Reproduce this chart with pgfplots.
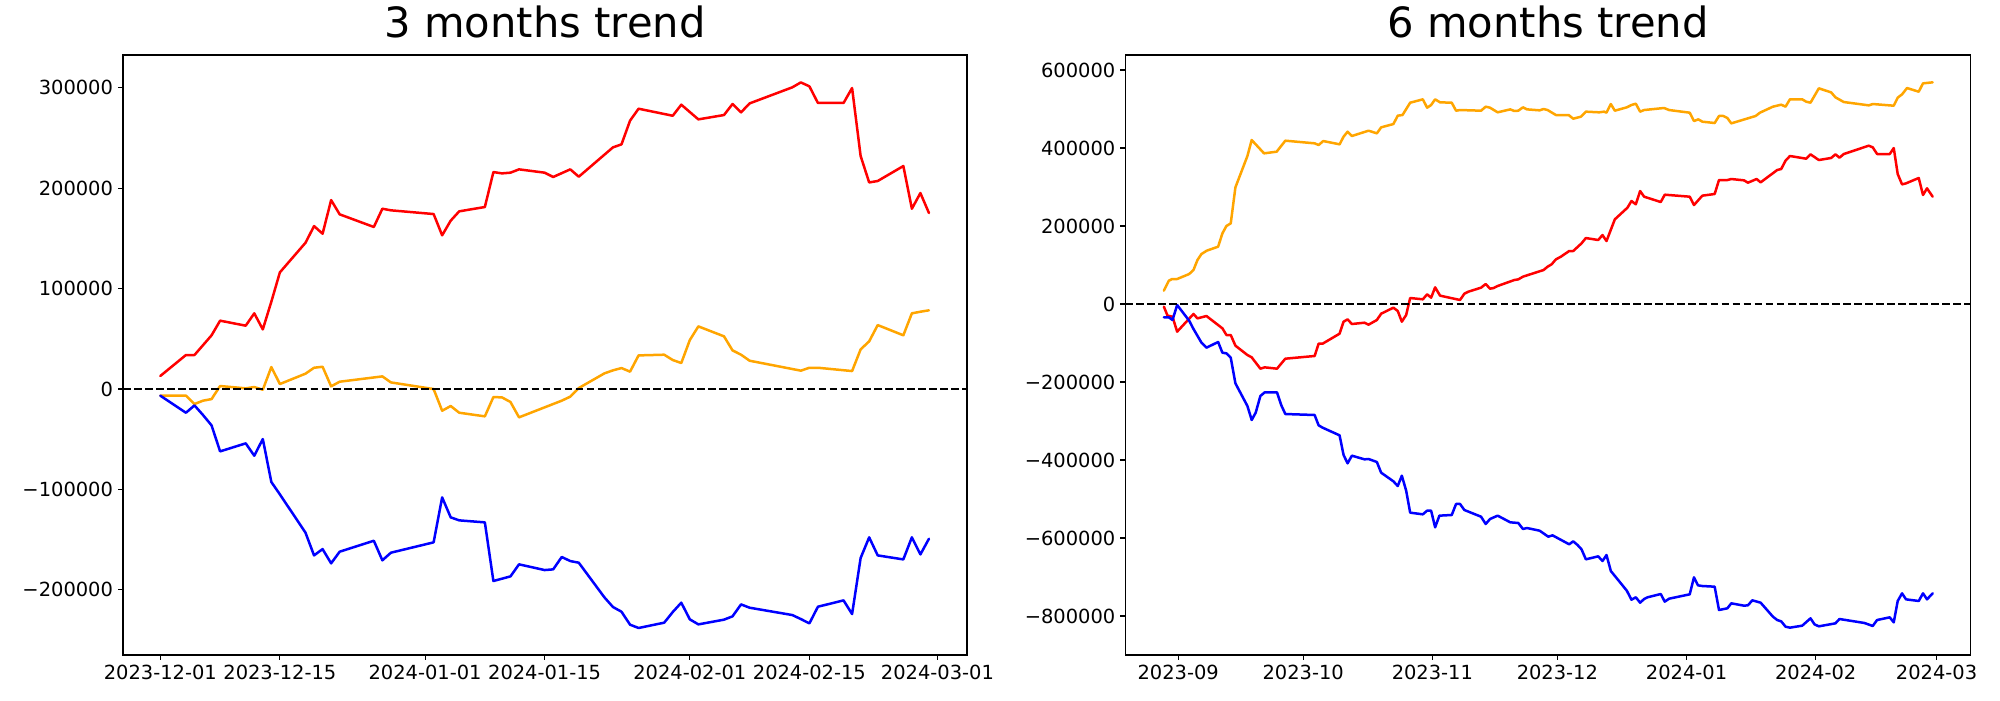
\documentclass[border=0pt]{standalone}
\usepackage{fontspec}
\setmainfont{DejaVu Sans}
\usepackage{pgfplots}
\pgfplotsset{compat=1.18}
\usepackage{pgfplotstable}

\definecolor{mplorange}{RGB}{255,165,0}

% ---- 3 months (x = days since 2023-12-01) ----
\pgfplotstableread{
x y
0 13000
3 33900
4 33900
6 53500
7 68100
10 63100
11 75400
12 59400
13 87000
14 116200
17 145700
18 162300
19 154700
20 188200
21 174000
25 161400
26 179600
27 178000
32 174300
33 153100
34 167700
35 177000
38 181300
39 216100
40 214800
41 215500
42 218800
45 215500
46 211200
48 218800
49 211500
53 240700
54 243700
55 267300
56 279200
60 272200
61 283200
63 268600
66 272900
67 283900
68 275600
69 284500
74 300500
75 305400
76 301500
77 284900
80 284900
81 299800
82 232100
83 205800
84 207200
87 222100
88 179600
89 195200
90 175300
}\leftred

\pgfplotstableread{
x y
0 -6600
3 -6600
4 -14900
5 -11600
6 -10000
7 3000
10 700
11 2000
12 -700
13 21900
14 5000
17 15300
18 21200
19 22200
20 2700
21 7300
26 12600
27 6600
32 0
33 -21600
34 -16900
35 -23600
38 -27200
39 -8000
40 -8300
41 -12900
42 -28200
47 -11600
48 -7600
49 1000
52 15600
53 18600
54 20900
55 17300
56 33500
59 34200
60 28900
61 25900
62 48800
63 62400
66 52500
67 38500
68 34200
69 28200
75 18300
76 21200
77 21200
81 17900
82 39500
83 47500
84 63700
87 53500
88 75400
89 77000
90 78400
}\leftorange

\pgfplotstableread{
x y
0 -6600
3 -23600
4 -16300
5 -25900
6 -36200
7 -62100
10 -54100
11 -66400
12 -49800
13 -92600
14 -104900
17 -143100
18 -165700
19 -159400
20 -173600
21 -162000
25 -151100
26 -170600
27 -163000
32 -152700
33 -107900
34 -127800
35 -130800
38 -132800
39 -191200
41 -186600
42 -174600
45 -180300
46 -179600
47 -167300
48 -171300
49 -173000
52 -207500
53 -217100
54 -221800
55 -234700
56 -238000
59 -232700
60 -222100
61 -212800
62 -229400
63 -234400
66 -229700
67 -226400
68 -214500
69 -217800
74 -225100
75 -229100
76 -233400
77 -216800
80 -210500
81 -224100
82 -168300
83 -147700
84 -165700
87 -169700
88 -147700
89 -164700
90 -149100
}\leftblue

% ---- 6 months (x = days since 2023-09-01) ----
\pgfplotstableread{
x y
-3.44 -6800
-2.56 -29900
-1.37 -32500
-0.25 -70900
3.67 -25600
4.62 -36800
6.78 -30800
10.61 -62400
11.57 -79500
12.61 -79500
13.73 -106800
16.61 -130800
17.64 -136800
19.72 -165800
20.76 -162400
23.71 -165800
25.71 -140200
32.74 -133300
33.7 -101700
34.66 -101700
38.73 -76100
39.69 -45300
40.65 -39300
41.68 -51300
44.72 -47900
45.68 -53000
47.68 -41000
48.71 -24800
51.65 -9400
52.69 -17900
53.67 -45300
54.71 -28200
55.67 15400
58.71 12000
59.74 24800
60.7 16200
61.66 42700
62.85 21400
67.64 10300
68.68 26500
69.64 31600
72.68 41900
73.8 51300
74.83 39300
75.71 41000
76.67 46200
80.66 61500
81.62 63200
82.74 70100
87.7 87200
88.65 95700
89.61 101700
90.65 114500
91.85 121400
93.84 135900
94.8 135900
96.8 155600
97.84 169200
100.8 164100
101.83 176900
102.79 161500
104.79 217100
107.82 247000
108.78 264100
109.82 255600
110.86 289700
111.82 275200
115.81 261500
116.77 280300
122.76 275200
123.79 253800
125.79 277800
128.75 282100
129.79 317900
131.79 317900
132.74 320500
135.78 317100
136.74 311100
138.82 320500
139.78 312000
143.76 343600
144.72 346200
145.76 367500
146.81 379500
150.71 372600
151.75 383800
153.75 369200
156.7 374400
157.74 383800
158.7 375200
159.74 384600
165.73 406000
166.69 401700
167.73 384600
170.77 384600
171.73 400000
172.68 333300
173.72 306800
174.68 309400
177.72 323100
178.75 279500
179.71 296600
181.07 275200
}\rightred

\pgfplotstableread{
x y
-3.44 34200
-2.24 59800
-1.45 64100
-0.25 64100
2.63 76900
3.67 87200
4.62 112800
5.58 128200
6.86 136800
9.58 147000
10.61 181200
11.57 200000
12.61 206800
13.73 299100
16.61 379500
17.64 420500
20.6 386300
23.63 390600
25.71 418800
32.74 412000
33.7 407700
34.82 417900
38.73 409400
39.69 429100
40.65 441900
41.68 430800
45.68 444400
47.68 437600
48.71 453000
51.65 461500
52.69 482900
53.83 484600
55.67 516200
58.71 524800
59.74 503400
60.7 510300
61.66 524800
62.85 517100
65.65 516200
66.68 495700
67.64 497400
72.68 495700
73.8 506000
74.83 503400
76.67 491500
79.7 499100
80.66 494900
81.62 495700
82.74 504300
83.7 499100
86.74 496600
87.7 500000
88.65 497400
90.65 484600
93.69 484600
94.8 475200
96.64 480300
97.84 493200
101.04 491500
102.23 493200
102.79 490600
103.83 512800
104.79 495700
107.66 504300
108.78 510300
109.82 513700
110.86 493200
111.82 497400
116.61 502600
117.81 497400
122.76 490600
123.79 469200
124.83 473500
125.79 467500
128.75 464100
129.79 482100
130.83 482100
131.79 476900
132.74 463200
138.58 482100
139.62 490600
142.73 506000
144.72 511100
145.76 506000
146.81 524800
149.76 524800
150.71 518800
151.75 516200
153.75 553000
156.7 542700
157.74 529900
159.74 517900
165.73 509400
166.69 512800
171.73 508500
172.68 529100
173.72 537600
174.92 553800
177.72 544400
178.75 565800
181.07 568400
}\rightorange

\pgfplotstableread{
x y
-3.44 -34200
-2.24 -34200
-1.37 -41000
-0.25 -2600
2.63 -42700
3.67 -64100
5.58 -99100
6.78 -112000
9.58 -97400
10.61 -124800
11.57 -126500
12.61 -137600
13.73 -203400
16.61 -261500
17.64 -297400
18.6 -278600
19.72 -235900
20.76 -226500
23.71 -226500
24.75 -259800
25.71 -282100
32.74 -284600
33.7 -311100
34.66 -317100
38.73 -336800
39.69 -387200
40.65 -408500
41.68 -388900
44.72 -398300
45.68 -397400
47.68 -405100
48.71 -432500
51.65 -454700
52.69 -466700
53.67 -440200
54.71 -478600
55.67 -535000
58.71 -539300
59.74 -529900
60.7 -529900
61.66 -572600
62.69 -542700
65.65 -541000
66.68 -512800
67.64 -512800
68.68 -528200
72.68 -545300
73.8 -564100
74.83 -551300
76.67 -542700
79.7 -559800
81.62 -561500
82.74 -576900
83.7 -574400
86.74 -581200
88.81 -596600
89.85 -593200
93.84 -616200
94.8 -608500
95.84 -617900
96.8 -629100
97.84 -654700
100.8 -647000
101.83 -659000
102.79 -643600
103.83 -684600
107.66 -735000
108.78 -758100
109.82 -752100
110.86 -765800
111.82 -756400
112.62 -752100
115.81 -743600
116.77 -763200
117.81 -755600
122.76 -744400
123.79 -700900
124.75 -721400
125.79 -723100
128.75 -724800
129.79 -784600
131.79 -780300
132.74 -767500
135.78 -773500
136.74 -772600
137.78 -759800
139.78 -765800
142.73 -801700
143.76 -810300
144.72 -813700
145.76 -827400
146.81 -829900
149.76 -824800
151.75 -806000
152.71 -821400
153.75 -826500
157.74 -818800
158.7 -807700
164.69 -817900
166.69 -825600
167.73 -810300
170.77 -803400
171.73 -816200
172.68 -761500
173.72 -741900
174.68 -757300
177.72 -761500
178.75 -741900
179.71 -757300
181.07 -741900
}\rightblue

\pgfplotsset{
  mpl/.style={
    scale only axis,
    height=432pt,
    scaled y ticks=false,
    scaled x ticks=false,
    axis line style={line width=0.8pt},
    tick align=outside,
    major tick length=3.5pt,
    tick style={line width=0.8pt, black},
    xtick pos=bottom, ytick pos=left,
    ticklabel style={font=\fontsize{14}{16}\selectfont},
    xticklabel style={inner sep=0pt, yshift=-3.5pt},
    yticklabel style={inner sep=0pt, xshift=-3.5pt},
    title style={font=\fontsize{30}{35}\selectfont, at={(0.5,1)}, anchor=base, yshift=6.7pt, inner sep=0pt},
    every axis plot/.append style={line width=1.8pt, line join=round, line cap=round},
  },
  zeroline/.style={black, line width=1.5pt, dash pattern=on 5.55pt off 2.4pt, line cap=butt},
}

\begin{document}
\begin{tikzpicture}
\useasboundingbox (0pt,0pt) rectangle (1440pt,504pt);

\begin{axis}[mpl,
  at={(88.56pt,32.4pt)}, anchor=south west,
  width=607.7pt,
  title={3 months trend},
  xmin=-4.37, xmax=94.46,
  ymin=-264900, ymax=332700,
  xtick={0,14,31,45,62,76,91},
  xticklabels={2023-12-01,2023-12-15,2024-01-01,2024-01-15,2024-02-01,2024-02-15,2024-03-01},
  ytick={-200000,-100000,0,100000,200000,300000},
  yticklabels={−200000,−100000,0,100000,200000,300000},
]
\addplot[red] table {\leftred};
\addplot[mplorange] table {\leftorange};
\addplot[blue] table {\leftblue};
\addplot[zeroline] coordinates {(-4.37,0) (94.46,0)};
\end{axis}

\begin{axis}[mpl,
  at={(810.2pt,32.4pt)}, anchor=south west,
  width=608.7pt,
  title={6 months trend},
  xmin=-12.7, xmax=190.2,
  ymin=-900000, ymax=638500,
  xtick={0,30,61,91,122,153,182},
  xticklabels={2023-09,2023-10,2023-11,2023-12,2024-01,2024-02,2024-03},
  ytick={-800000,-600000,-400000,-200000,0,200000,400000,600000},
  yticklabels={−800000,−600000,−400000,−200000,0,200000,400000,600000},
]
\addplot[red] table {\rightred};
\addplot[mplorange] table {\rightorange};
\addplot[blue] table {\rightblue};
\addplot[zeroline] coordinates {(-12.7,0) (190.2,0)};
\end{axis}
\end{tikzpicture}
\end{document}
